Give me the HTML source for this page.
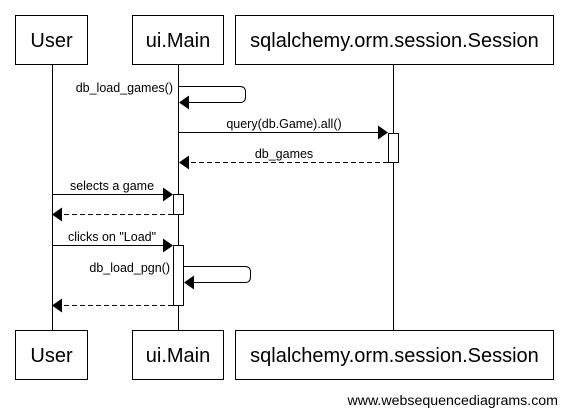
<!DOCTYPE html>
<html><head><style>body{margin:0;background:#fff}</style></head><body>
<svg width="567" height="415" xmlns="http://www.w3.org/2000/svg" font-family="Liberation Sans, sans-serif">
<g fill="#fff" stroke="#000" stroke-width="1">
<line x1="52.5" y1="65" x2="52.5" y2="330"/>
<line x1="178.5" y1="65" x2="178.5" y2="330"/>
<line x1="393.5" y1="65" x2="393.5" y2="330"/>
<rect x="15.5" y="15.5" width="72" height="49"/>
<rect x="132.5" y="15.5" width="91" height="49"/>
<rect x="235.5" y="15.5" width="318" height="49"/>
<rect x="15.5" y="330.5" width="72" height="49"/>
<rect x="132.5" y="330.5" width="91" height="49"/>
<rect x="235.5" y="330.5" width="318" height="49"/>
<path d="M178.5 86.5 H240 Q245.5 86.5 245.5 92 V97 Q245.5 102.5 240 102.5 H188" fill="none"/>
<line x1="178" y1="132.5" x2="378" y2="132.5"/>
<rect x="388.5" y="133.5" width="10" height="29"/>
<line x1="388" y1="162.5" x2="189" y2="162.5" stroke-dasharray="5,3"/>
<line x1="52" y1="194.5" x2="164" y2="194.5"/>
<rect x="173.5" y="194.5" width="10" height="20"/>
<line x1="173" y1="214.5" x2="63" y2="214.5" stroke-dasharray="5,3"/>
<line x1="52" y1="245.5" x2="164" y2="245.5"/>
<rect x="173.5" y="245.5" width="10" height="60"/>
<path d="M183.5 266.5 H245 Q250.5 266.5 250.5 272 V277 Q250.5 282.5 245 282.5 H193" fill="none"/>
<line x1="173" y1="305.5" x2="63" y2="305.5" stroke-dasharray="5,3"/>
</g>
<g fill="#000">
<polygon points="179,102.5 189,95.5 189,109.5"/>
<polygon points="388,132.5 378,125.5 378,139.5"/>
<polygon points="179,162.5 189,155.5 189,169.5"/>
<polygon points="173,194.5 163,187.5 163,201.5"/>
<polygon points="52,214.5 62,207.5 62,221.5"/>
<polygon points="173,245.5 163,238.5 163,252.5"/>
<polygon points="184,282.5 194,275.5 194,289.5"/>
<polygon points="52,305.5 62,298.5 62,312.5"/>
</g>
<g font-size="20" text-anchor="middle">
<text x="51.5" y="47">User</text>
<text x="178" y="47">ui.Main</text>
<text x="394.5" y="47">sqlalchemy.orm.session.Session</text>
<text x="51.5" y="362">User</text>
<text x="178" y="362">ui.Main</text>
<text x="394.5" y="362">sqlalchemy.orm.session.Session</text>
</g>
<g font-size="12.5">
<text x="173" y="92" text-anchor="end">db_load_games()</text>
<text x="284" y="128" text-anchor="middle">query(db.Game).all()</text>
<text x="284" y="158" text-anchor="middle">db_games</text>
<text x="112" y="190" text-anchor="middle">selects a game</text>
<text x="112" y="241" text-anchor="middle">clicks on "Load"</text>
<text x="170" y="272" text-anchor="end">db_load_pgn()</text>
</g>
<text x="558" y="405" font-size="14.2" text-anchor="end">www.websequencediagrams.com</text>
</svg>
</body></html>
